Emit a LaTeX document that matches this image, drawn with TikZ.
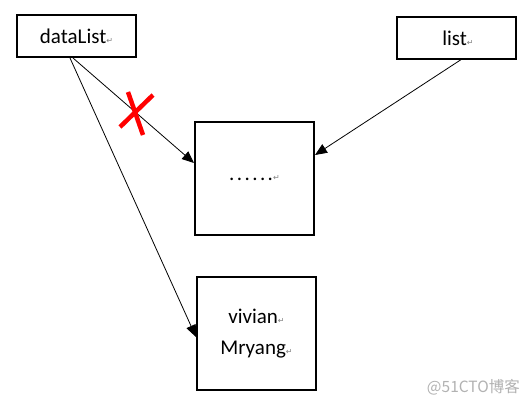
\documentclass[tikz,border=0pt]{standalone}
\usepackage{fontspec}
\setmainfont{Carlito}
\newfontfamily\symfont{DejaVu Sans}
\newfontfamily\cjkfont{Noto Sans CJK SC}
\usetikzlibrary{arrows.meta}
\newcommand{\retmark}{{\symfont\fontsize{8}{8}\selectfont\color{gray}↵}}
\newcommand{\spdots}{.\kern2.4pt.\kern2.4pt.\kern2.4pt.\kern2.4pt.\kern2.4pt.}
\begin{document}
\begin{tikzpicture}[x=1pt,y=-1pt,
  box/.style={draw=black, line width=2pt, minimum width=119pt, inner sep=0pt, font=\fontsize{21}{31}\selectfont},
  arr/.style={draw=black, line width=0.8pt, -{Triangle[length=12pt,width=10pt]}},
  cross/.style={draw=red, line width=4.5pt}]
\useasboundingbox[fill=white] (0,0) rectangle (531,404);
\node[box, minimum height=42pt] (dl) at (76.5,36) {\raisebox{-2pt}{dataList\retmark}};
\node[box, minimum height=42pt] (ls) at (456.5,38) {\raisebox{-2pt}{\kern3pt list\retmark}};
\node[box, minimum height=113pt] (mid) at (254.5,178.5) {\raisebox{-4pt}{\spdots\retmark}};
\node[box, minimum height=113pt, align=center] (bot) at (256.5,333.5) {\raisebox{-3pt}{\parbox{100pt}{\centering vivian\retmark\\Mryang\retmark}}};
\coordinate (s1) at (73,58);
\coordinate (s2) at (70,58);
\coordinate (s3) at (462,59);
\coordinate (e1) at (194,163);
\coordinate (e2) at (196,337);
\coordinate (e3) at (315,155);
\draw[arr] (s1) -- (e1);
\draw[arr] (s2) -- (e2);
\draw[arr] (s3) -- (e3);
\coordinate (xa) at (120,127);
\coordinate (xb) at (153,95);
\coordinate (xc) at (128,92);
\coordinate (xd) at (143,135);
\draw[cross] (xa) -- (xb);
\draw[cross] (xc) -- (xd);
\node[text=gray!60, font=\cjkfont\fontsize{15.5}{15.5}\selectfont, anchor=base east, inner sep=0pt] (wm) at (520,392) {@51CTO博客};
\end{tikzpicture}
\end{document}
